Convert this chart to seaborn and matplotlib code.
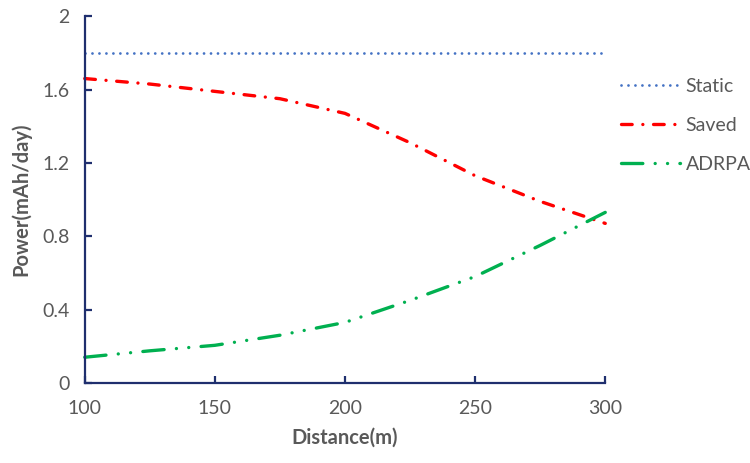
import numpy as np
import pandas as pd
import matplotlib
matplotlib.use("Agg")
import matplotlib.pyplot as plt
import seaborn as sns

# values
distance = [100, 125, 150, 175, 200, 225, 250, 275, 300]
static = [1.8, 1.8, 1.8, 1.8, 1.8, 1.8, 1.8, 1.8, 1.8]
saved = [1.66, 1.63, 1.59, 1.55, 1.47, 1.31, 1.13, 0.99, 0.87]
adrpa = [0.14, 0.175, 0.205, 0.26, 0.33, 0.45, 0.58, 0.75, 0.93]

y_ticks = [0, 0.4, 0.8, 1.2, 1.6, 2]
y_tick_labels = ["0", "0.4", "0.8", "1.2", "1.6", "2"]
x_ticks = [100, 150, 200, 250, 300]

sns.set_theme(style="white")
plt.rcParams["font.family"] = ["Lato", "DejaVu Sans"]

grey = "#595959"
navy = "#1f2f6e"

fig = plt.figure(figsize=(7.5, 4.63), dpi=100)
ax = fig.add_axes([0.113, 0.173, 0.694, 0.792])

series = [
    ("Static", static, "#4472c4", 2.0, (0, (0.01, 2.5))),
    ("Saved", saved, "#ff0000", 2.4, (0, (3.2, 3.2, 0.01, 3.2))),
    ("ADRPA", adrpa, "#00b050", 2.4, (0, (6.4, 3.7, 0.01, 3.7, 0.01, 3.7))),
]

for name, vals, color, lw, ls in series:
    df = pd.DataFrame({"Distance": distance, "Power": vals})
    sns.lineplot(data=df, x="Distance", y="Power", ax=ax, color=color,
                 linewidth=lw, linestyle=ls, label=name,
                 dash_capstyle="round", clip_on=False)

ax.set_xlim(100, 300)
ax.set_ylim(0, 2)
ax.set_xticks(x_ticks)
ax.set_yticks(y_ticks)
ax.set_yticklabels(y_tick_labels)

for side in ["top", "right"]:
    ax.spines[side].set_visible(False)
for side in ["left", "bottom"]:
    ax.spines[side].set_color(navy)
    ax.spines[side].set_linewidth(1.6)

ax.tick_params(axis="both", direction="in", length=5, width=1.6,
               color=navy, labelcolor=grey, labelsize=14)
ax.tick_params(axis="x", pad=12)
ax.tick_params(axis="y", pad=11)
ax.tick_params(left=True, bottom=True)

ax.set_xlabel("Distance(m)", fontsize=14.5, fontweight="bold", color=grey, labelpad=8)
ax.set_ylabel("Power(mAh/day)", fontsize=14.5, fontweight="bold", color=grey, labelpad=8)

handles, labels = ax.get_legend_handles_labels()
ax.get_legend().remove()
fig.legend(handles, labels, loc="upper left", bbox_to_anchor=(0.817, 0.848),
           frameon=False, fontsize=14, labelcolor=grey, handlelength=3.05,
           handletextpad=0.3, labelspacing=1.12, borderaxespad=0)

fig.savefig("out.png", dpi=100)
